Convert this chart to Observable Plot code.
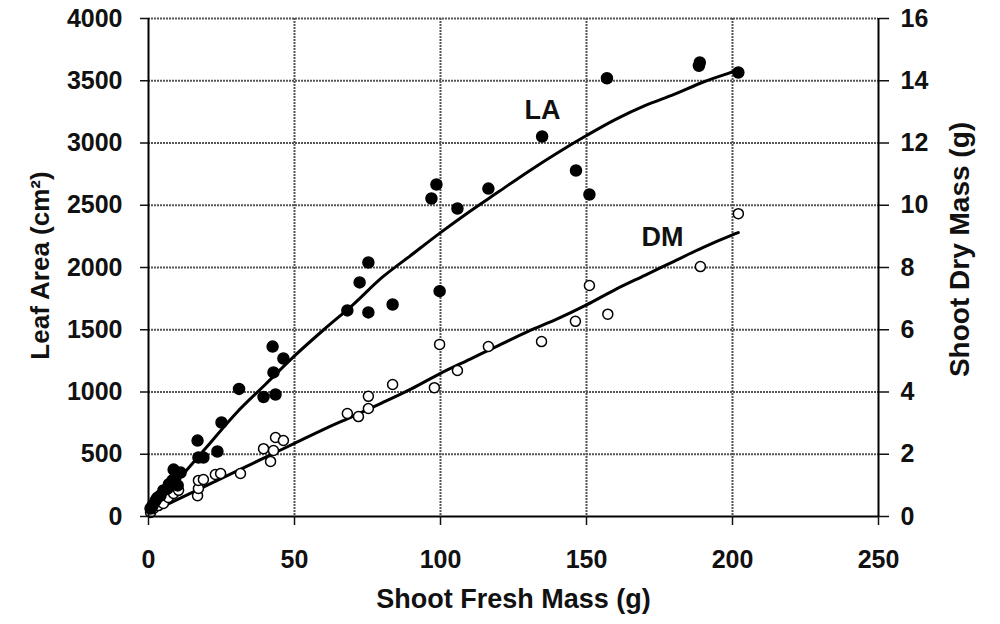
<!DOCTYPE html>
<html><head><meta charset="utf-8">
<script src="https://cdn.jsdelivr.net/npm/d3@7"></script>
<script src="https://cdn.jsdelivr.net/npm/@observablehq/plot@0.6"></script>
<style>
body{margin:0;background:#fff}
svg{font-family:"Liberation Sans",Arial,sans-serif}
</style>
</head><body><div id="chart"></div>
<script>
// Leaf area (filled dots): shoot fresh mass (g), leaf area (cm²)
const laMass = [0.7,1.4,2.4,3.0,4.1,5.1,6.5,7.0,8.2,9.2,8.6,10.0,11,17.1,18.8,23.6,16.8,25,31,39.4,43.5,42.8,46.2,42.5,68.1,75.3,72.3,75.3,83.6,99.7,96.9,98.6,105.8,116.4,134.8,146.4,151,157,188.5,188.8,202];
const laArea = [64,88,128,150,169,209,225,260,289,313,377,250,353,474,474,522,610,755,1025,960,980,1157,1269,1365,1655,1639,1880,2040,1703,1810,2554,2667,2474,2634,3052,2779,2586,3520,3620,3647,3566];
// Dry mass (open circles): shoot fresh mass (g), shoot dry mass (g)
const dmMass = [0.7,1.7,3.4,5.1,6.8,8.6,10.3,16.8,17.1,17.1,18.8,22.9,24.7,31.5,39.4,41.8,42.8,43.5,46.2,68.1,71.9,75.3,75.3,83.6,97.9,99.7,105.8,116.4,134.6,146.2,151,157.3,189,202];
const dmDry = [0.13,0.26,0.35,0.42,0.61,0.74,0.84,0.67,0.9,1.16,1.19,1.35,1.38,1.38,2.18,1.77,2.12,2.54,2.44,3.31,3.21,3.47,3.86,4.24,4.14,5.53,4.69,5.46,5.62,6.27,7.42,6.5,8.03,9.73];
// Fitted curves
const fitMass = [0,10,20,30,40,50,60,70,80,90,100,110,120,130,140,150,160,170,180,190,200,202];
const laFit = [30,290,560,830,1060,1290,1500,1700,1920,2100,2280,2450,2610,2770,2920,3060,3190,3300,3390,3490,3570,3585];
const dmFit = [0.1,0.55,1.0,1.45,1.9,2.35,2.8,3.22,3.65,4.1,4.6,5.05,5.5,5.95,6.35,6.8,7.3,7.75,8.2,8.65,9.05,9.12];
// Ticks
const xTicks = [0,50,100,150,200,250];
const yTicks = [0,500,1000,1500,2000,2500,3000,3500,4000];
const dmScale = 4000 / 16;
// Series labels
const seriesNames = ["LA","DM"];
const seriesLabelMass = [134.9,176];
const seriesLabelValue = [3261, 8.97 * dmScale];

const la = laMass.map((x,i)=>({x, y: laArea[i]}));
const dm = dmMass.map((x,i)=>({x, y: dmDry[i]}));
const fit = fitMass.map((x,i)=>({x, la: laFit[i], dm: dmFit[i]}));
const labels = seriesNames.map((t,i)=>({t, x: seriesLabelMass[i], y: seriesLabelValue[i]}));

const gridStyle = {stroke:"#555", strokeOpacity:1, strokeWidth:2, strokeDasharray:"2,1"};
const intFmt = d3.format("d");

const chart = Plot.plot({
  width: 1000, height: 624,
  marginLeft: 148, marginRight: 122, marginTop: 18, marginBottom: 108,
  style: {fontFamily: "Liberation Sans, Arial, sans-serif", fontWeight: "bold", color: "#111", background: "#fff", overflow: "visible"},
  x: {domain: [0,250]},
  y: {domain: [0,4000]},
  marks: [
    Plot.gridX([50,100,150,200], gridStyle),
    Plot.gridY(yTicks.filter(d=>d>0), gridStyle),
    Plot.line(fit, {x:"x", y:"la", stroke:"#000", strokeWidth:3, curve:"catmull-rom"}),
    Plot.line(fit, {x:"x", y: d=>d.dm*dmScale, stroke:"#000", strokeWidth:3, curve:"catmull-rom"}),
    Plot.dot(dm, {x:"x", y: d=>d.y*dmScale, r:5, fill:"#fff", stroke:"#000", strokeWidth:1.5}),
    Plot.dot(la, {x:"x", y:"y", r:5.5, fill:"#000", stroke:"#000"}),
    Plot.ruleX([0,250], {stroke:"#000", strokeWidth:2}),
    Plot.ruleY([0], {stroke:"#000", strokeWidth:2}),
    Plot.axisX(xTicks, {tickSize:9, tickPadding:25, fontSize:25, label:null, strokeWidth:1.5, tickFormat:intFmt}),
    Plot.axisY(yTicks, {anchor:"left", tickSize:8, tickPadding:18, fontSize:25, label:null, strokeWidth:1.5, tickFormat:intFmt}),
    Plot.axisY(yTicks, {anchor:"right", tickFormat: d => intFmt(d/dmScale), tickSize:10, tickPadding:12, fontSize:25, label:null, strokeWidth:1.5}),
    Plot.text(labels, {x:"x", y:"y", text:"t", fontSize:27, fontWeight:"bold", fill:"#111"}),
    Plot.text(["Shoot Fresh Mass (g)"], {frameAnchor:"bottom", textAnchor:"middle", dy:91, fontSize:27, fontWeight:"bold", fill:"#111"}),
    Plot.text(["Leaf Area (cm²)"], {frameAnchor:"left", textAnchor:"middle", dx:-108, dy:-2, rotate:-90, fontSize:26, fontWeight:"bold", fill:"#111"}),
    Plot.text(["Shoot Dry Mass (g)"], {frameAnchor:"right", textAnchor:"middle", dx:82, dy:-18, rotate:-90, fontSize:28, fontWeight:"bold", fill:"#111"})
  ]
});
document.getElementById("chart").appendChild(chart);
</script>
</body></html>
